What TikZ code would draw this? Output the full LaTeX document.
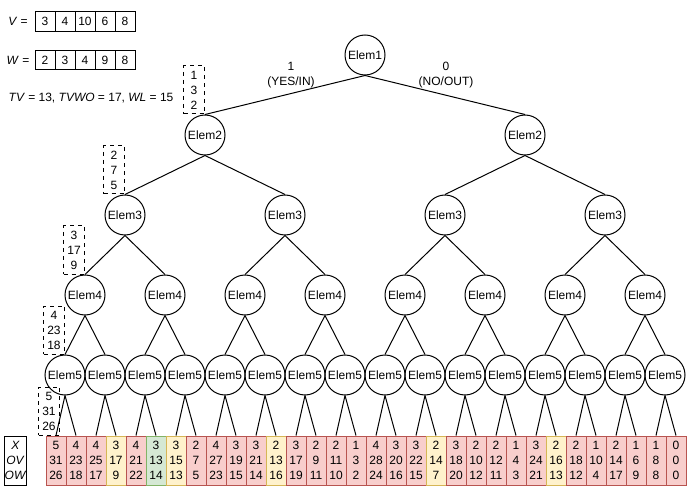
\documentclass[tikz,border=0pt]{standalone}
\usepackage{fontspec}
\setmainfont{Liberation Sans}
\definecolor{fillR}{HTML}{f8cecc}
\definecolor{lineR}{HTML}{b85450}
\definecolor{fillY}{HTML}{fff2cc}
\definecolor{lineY}{HTML}{d6b656}
\definecolor{fillG}{HTML}{d5e8d4}
\definecolor{lineG}{HTML}{82b366}
\usepackage{tikz}
\usetikzlibrary{math}

\begin{document}
\begin{tikzpicture}[x=0.75pt, y=-0.75pt]
    \tikzset{%
        every node/.style={font=\fontsize{9pt}{11.25pt}\selectfont},
        elem/.style={draw, circle, minimum size=30pt, inner sep=0pt, line width=0.75pt},
        cell/.style={draw, minimum width=15pt, minimum height=14.5pt, inner sep=0pt, line width=0.75pt},
        tag/.style={draw, dashed, minimum width=15.75pt, minimum height=36pt, inner sep=0pt, align=center, anchor=south east, line width=0.75pt},
        leaf/.style={draw, minimum width=15pt, minimum height=36.75pt, inner sep=0pt, align=center, line width=0.75pt},
        link/.style={line width=0.75pt}
    }
    \useasboundingbox (0, 0) rectangle (691, 491);

    % values, weights and totals
    \node (vlabel) at (18, 21.5) {\textit{V} =};
    \foreach \v [count=\j] in {3, 4, 10, 6, 8} {%
            \node [cell] (v\j) at ({25 + 20*\j}, 21.5) {\v};
        }
    \node (wlabel) at (18, 60) {\textit{W} =};
    \foreach \w [count=\j] in {2, 3, 4, 9, 8} {%
            \node [cell] (w\j) at ({25 + 20*\j}, 60) {\w};
        }
    \node [anchor=west] (totals) at (4, 98) {\textit{TV} = 13, \textit{TVWO} = 17, \textit{WL} = 15};

    % decision tree
    \foreach \k in {1, ..., 5} {%
            \tikzmath{%
                integer \n;
                \n = 2^(\k-1);
                \gap = 640/\n;
                \ylev = 55 + 80*(\k-1);
            };
            \foreach \i in {1, ..., \n} {%
                    \node [elem] (elem\k-\i) at ({45 + \gap*(\i-0.5)}, \ylev) {Elem\k};
                }
        }

    \foreach \k in {1, ..., 4} {%
            \tikzmath{%
                integer \n, \m;
                \n = 2^(\k-1);
                \m = \k+1;
            };
            \foreach \i in {1, ..., \n} {%
                    \tikzmath{%
                        integer \a, \b;
                        \a = 2*\i-1;
                        \b = 2*\i;
                    };
                    \draw [link] (elem\k-\i.south) -- (elem\m-\a.north);
                    \draw [link] (elem\k-\i.south) -- (elem\m-\b.north);
                }
        }

    \node [align=center] (yes) at (291, 75) {1\\(YES/IN)};
    \node [align=center] (no) at (446, 75) {0\\(NO/OUT)};

    % leaves: X / OV / OW
    \foreach \x/\o/\w/\c [count=\j] in {%
            5/31/26/R, 4/23/18/R, 4/25/17/R, 3/17/9/Y, 4/21/22/R, 3/13/14/G, 3/15/13/Y, 2/7/5/R,
            4/27/23/R, 3/19/15/R, 3/21/14/R, 2/13/16/Y, 3/17/19/R, 2/9/11/R, 2/11/10/R, 1/3/2/R,
            4/28/24/R, 3/20/16/R, 3/22/15/R, 2/14/7/Y, 3/18/20/R, 2/10/12/R, 2/12/11/R, 1/4/3/R,
            3/24/21/R, 2/16/13/Y, 2/18/12/R, 1/10/4/R, 2/14/17/R, 1/6/9/R, 1/8/8/R, 0/0/0/R} {%
            \node [leaf, draw=line\c, fill=fill\c] (leaf\j) at ({36 + 20*\j}, 460.5) {\x\\\o\\\w};
        }

    \foreach \i in {1, ..., 16} {%
            \tikzmath{%
                integer \a, \b;
                \a = 2*\i-1;
                \b = 2*\i;
            };
            \draw [link] (elem5-\i.south) -- (leaf\a.north);
            \draw [link] (elem5-\i.south) -- (leaf\b.north);
        }

    \node [leaf, minimum width=15.75pt] (legend) at (15.5, 460.5) {\textit{X}\\\textit{OV}\\\textit{OW}};

    % running totals along the leftmost path
    \node [tag] (tag2) at (elem2-1.north) {1\\3\\2};
    \node [tag] (tag3) at (elem3-1.north) {2\\7\\5};
    \node [tag] (tag4) at (elem4-1.north) {3\\17\\9};
    \node [tag] (tag5) at (elem5-1.north) {4\\23\\18};
    \node [tag] (tag6) at ([xshift=3pt]leaf1.north) {5\\31\\26};
\end{tikzpicture}
\end{document}
